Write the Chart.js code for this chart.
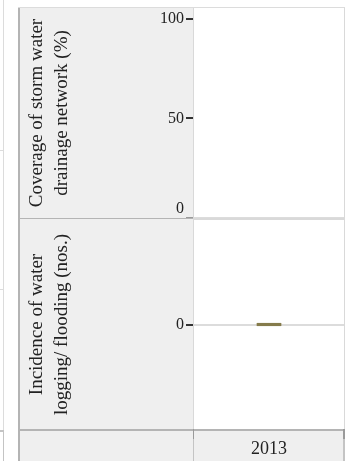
<!DOCTYPE html>
<html>
<head>
<meta charset="utf-8">
<script src="https://cdn.jsdelivr.net/npm/chart.js@4.4.1/dist/chart.umd.min.js"></script>
<style>
    html, body { margin: 0; padding: 0; background: #fff; }
    body { width: 351px; height: 461px; position: relative; overflow: hidden; }
    .box { position: absolute; }
    .frag { position: absolute; background: #dcdcdc; }
</style>
</head>
<body>
<!-- edge of the neighbouring panel column -->
<div class="frag" style="left:3px; top:0; width:1px; height:430px;"></div>
<div class="frag" style="left:0; top:150px; width:4px; height:1px;"></div>
<div class="frag" style="left:0; top:289px; width:4px; height:1px;"></div>
<div class="frag" style="left:0; top:430px; width:4px; height:2px; background:#c4c4c4;"></div>
<div class="frag" style="left:3px; top:432px; width:1px; height:29px; background:#c4c4c4;"></div>

<div class="box" style="left:18px; top:7px; width:327px; height:212px;"><canvas id="coverageChart"></canvas></div>
<div class="box" style="left:18px; top:219px; width:327px; height:242px;"><canvas id="floodChart"></canvas></div>

<script>
// Data
const years = ['2013'];
const coverageValues = [null];      // no value shown for 2013
const floodingValues = [0];
const coverageTicks = [0, 50, 100];
const floodingTicks = [0];
const coverageTitle = ['Coverage of storm water', 'drainage network (%)'];
const floodingTitle = ['Incidence of water', 'logging/ flooding (nos.)'];

const FONT = "'Liberation Serif', 'DejaVu Serif', serif";
const BAR_COLOR = '#857b4b';
const PANEL_GRAY = '#efefef';

// paints the grey label column, white plot area and the frame lines
const panelFrame = {
    id: 'panelFrame',
    beforeDraw(chart) {
        const ctx = chart.ctx;
        const a = chart.chartArea;
        ctx.save();
        ctx.fillStyle = PANEL_GRAY;
        ctx.fillRect(0, 0, chart.width, chart.height);
        ctx.fillStyle = '#fff';
        ctx.fillRect(a.left, a.top, a.right - a.left, a.bottom - a.top);
        ctx.restore();
    },
    afterDraw(chart, args, opts) {
        const ctx = chart.ctx;
        const a = chart.chartArea;
        ctx.save();
        // left edge of the label column
        ctx.fillStyle = '#b4b4b4';
        ctx.fillRect(0, 0, 2, chart.height);
        // plot frame
        ctx.strokeStyle = '#d9d9d9';
        ctx.lineWidth = 1;
        ctx.strokeRect(a.left + 0.5, a.top - 0.5, a.right - a.left - 1, a.bottom - a.top + 1);
        if (opts.topLine) {
            ctx.fillStyle = '#dcdcdc';
            ctx.fillRect(0, 0, chart.width, 1);
        }
        // separator under the label cell
        ctx.fillStyle = '#b4b4b4';
        ctx.fillRect(0, a.bottom, a.left, 2);
        if (opts.axisCell) {
            ctx.fillRect(a.left, a.bottom, a.right - a.left, 2);
            ctx.fillStyle = '#c4c4c4';
            ctx.fillRect(a.left, a.bottom, 1, chart.height - a.bottom);
            ctx.fillRect(a.right - 2, a.bottom, 2, chart.height - a.bottom);
            ctx.fillStyle = '#9a9a9a';
            ctx.fillRect(a.left, a.bottom, 1, 10);
            ctx.fillRect(a.right - 2, a.bottom, 2, 10);
        }
        ctx.restore();
    }
};

function yScale(ticksList, min, max, title, shiftZero) {
    return {
        min: min,
        max: max,
        afterFit: s => {
            s.width = 175;
            s.paddingTop = 0;
            s.paddingBottom = 0;
        },
        afterBuildTicks: s => { s.ticks = ticksList.map(v => ({ value: v })); },
        border: { display: false },
        grid: {
            color: c => (c.tick && c.tick.value === 0 ? '#dcdcdc' : 'rgba(0,0,0,0)'),
            tickColor: c => (shiftZero && c.tick && c.tick.value === 0 ? '#9a9a9a' : '#333'),
            tickLength: 7,
            lineWidth: 2
        },
        ticks: {
            padding: 2,
            color: '#222',
            font: { family: FONT, size: 16, lineHeight: 1.2 },
            callback: v => (shiftZero && v === 0 ? ['0', ''] : String(v))
        },
        title: {
            display: true,
            text: title,
            color: '#222',
            font: { family: FONT, size: 19, lineHeight: 25 / 19 },
            padding: { top: 6.5, bottom: 0 }
        }
    };
}

Chart.defaults.animation = false;

new Chart(document.getElementById('coverageChart'), {
    type: 'bar',
    data: {
        labels: years,
        datasets: [{ data: coverageValues, backgroundColor: BAR_COLOR, barThickness: 24 }]
    },
    options: {
        responsive: true,
        maintainAspectRatio: false,
        layout: { autoPadding: false, padding: { top: 1, bottom: 1, left: 0, right: 0 } },
        plugins: { legend: { display: false }, tooltip: { enabled: false }, panelFrame: { topLine: true } },
        scales: {
            x: { display: false },
            y: yScale(coverageTicks, 0, 105.5, coverageTitle, true)
        }
    },
    plugins: [panelFrame]
});

new Chart(document.getElementById('floodChart'), {
    type: 'bar',
    data: {
        labels: years,
        datasets: [{ data: floodingValues, backgroundColor: BAR_COLOR, barThickness: 24, minBarLength: 2.5 }]
    },
    options: {
        responsive: true,
        maintainAspectRatio: false,
        layout: { autoPadding: false, padding: { top: 1, bottom: 0, left: 0, right: 0 } },
        plugins: { legend: { display: false }, tooltip: { enabled: false }, panelFrame: { axisCell: true } },
        scales: {
            x: {
                afterFit: s => { s.height = 32; },
                border: { display: false },
                grid: { display: false, drawTicks: false },
                ticks: { padding: 9, color: '#222', font: { family: FONT, size: 18 } }
            },
            y: yScale(floodingTicks, -1, 1, floodingTitle, false)
        }
    },
    plugins: [panelFrame]
});
</script>
</body>
</html>
